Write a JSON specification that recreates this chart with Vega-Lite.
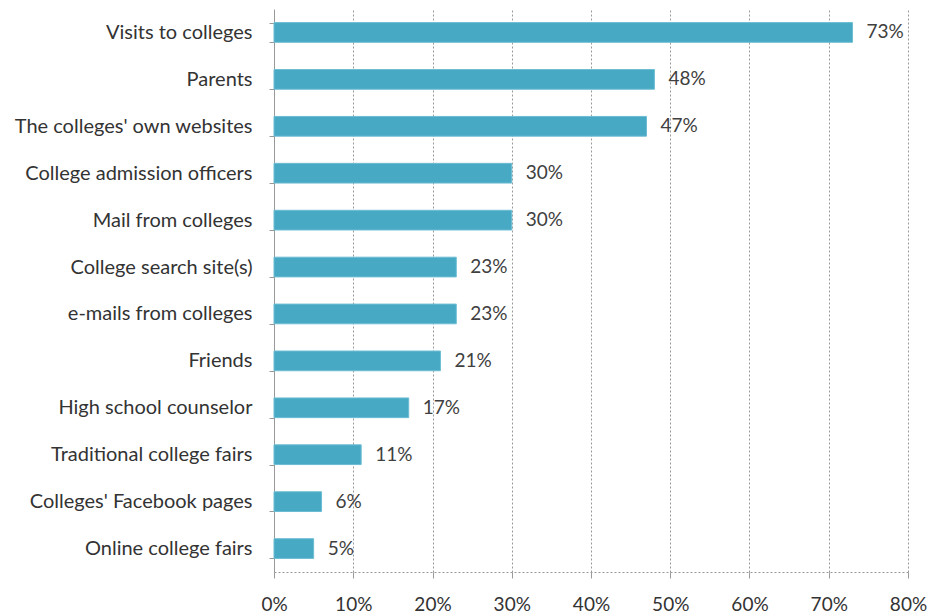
{
  "$schema": "https://vega.github.io/schema/vega-lite/v6.json",
  "autosize": {"type": "none"},
  "padding": {"left": 274, "top": 9, "right": 22, "bottom": 44},
  "width": 634,
  "height": 563,
  "background": "white",
  "config": {
    "view": {"stroke": null},
    "font": "Lato"
  },
  "data": {
    "values": [
      {"source": "Visits to colleges", "share": 0.73},
      {"source": "Parents", "share": 0.48},
      {"source": "The colleges' own websites", "share": 0.47},
      {"source": "College admission officers", "share": 0.30},
      {"source": "Mail from colleges", "share": 0.30},
      {"source": "College search site(s)", "share": 0.23},
      {"source": "e-mails from colleges", "share": 0.23},
      {"source": "Friends", "share": 0.21},
      {"source": "High school counselor", "share": 0.17},
      {"source": "Traditional college fairs", "share": 0.11},
      {"source": "Colleges' Facebook pages", "share": 0.06},
      {"source": "Online college fairs", "share": 0.05}
    ]
  },
  "encoding": {
    "y": {
      "field": "source",
      "type": "nominal",
      "sort": null,
      "scale": {"paddingInner": 0.58, "paddingOuter": 0.29},
      "axis": {
        "title": null,
        "tickBand": "extent",
        "tickSize": 5,
        "tickColor": "#999999",
        "domainColor": "#999999",
        "labelPadding": 17,
        "labelFontSize": 20,
        "labelColor": "#333333",
        "labelLimit": 400
      }
    },
    "x": {
      "field": "share",
      "type": "quantitative",
      "scale": {"domain": [0, 0.8], "nice": false},
      "axis": {
        "title": null,
        "format": ".0%",
        "values": [0, 0.1, 0.2, 0.3, 0.4, 0.5, 0.6, 0.7, 0.8],
        "grid": true,
        "gridColor": "#9a9a9a",
        "gridDash": [2, 2],
        "domainColor": "#9a9a9a",
        "domainDash": [2, 2],
        "tickColor": "#9a9a9a",
        "tickSize": 6,
        "labelFlush": false,
        "labelPadding": 17,
        "labelFontSize": 19,
        "labelColor": "#333333"
      }
    }
  },
  "layer": [
    {
      "mark": {"type": "bar", "color": "#47a9c4", "stroke": "#6cbcd3", "strokeWidth": 1}
    },
    {
      "mark": {"type": "text", "align": "left", "dx": 14, "fontSize": 19, "color": "#404040"},
      "encoding": {
        "text": {"field": "share", "type": "quantitative", "format": ".0%"}
      }
    }
  ]
}
